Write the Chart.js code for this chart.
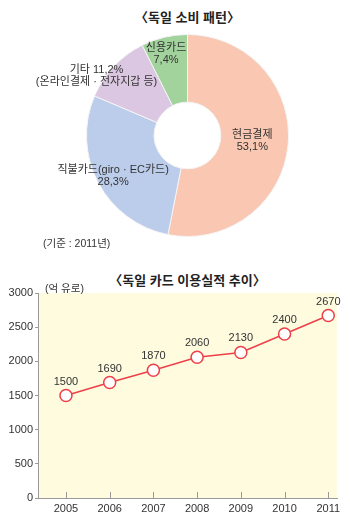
<!DOCTYPE html>
<html lang="ko">
<head>
<meta charset="utf-8">
<script src="https://cdn.jsdelivr.net/npm/chart.js@4.4.0/dist/chart.umd.min.js"></script>
<style>
  html, body { margin: 0; padding: 0; background: #fff; }
  body { width: 350px; height: 526px; position: relative; overflow: hidden;
         font-family: 'Liberation Sans', 'Noto Sans CJK KR', sans-serif; color: #333; }
  .box { position: absolute; left: 0; width: 350px; }
  .title { position: absolute; left: 0; width: 375px; text-align: center; font-size: 13px;
           font-weight: bold; color: #222; font-family: 'Noto Sans CJK KR', sans-serif; }
  .note { position: absolute; font-size: 10.5px; line-height: 12px; color: #333; z-index: 2; }
</style>
</head>
<body>
<div class="title" style="top:7px">〈독일 소비 패턴〉</div>
<div class="box" style="top:0;height:260px"><canvas id="pieChart"></canvas></div>
<div class="note" style="left:43px;top:237px">(기준 : 2011년)</div>

<div class="title" style="top:270px">〈독일 카드 이용실적 추이〉</div>
<div class="box" style="top:260px;height:266px"><canvas id="lineChart"></canvas></div>
<div class="note" style="left:45px;top:282px">(억 유로)</div>

<script>
// --- 소비 패턴 (2011) ---
const payLabels = [['현금결제', '53,1%'], ['직불카드(giro · EC카드)', '28,3%'], ['기타 11,2%', '(온라인결제 · 전자지갑 등)'], ['신용카드', '7,4%']];
const payShares = [53.1, 28.3, 11.2, 7.4];
const payColors = ['#f9c7b2', '#bccdeb', '#dbc7e1', '#a3d39d'];

// --- 카드 이용실적 (억 유로) ---
const years = [2005, 2006, 2007, 2008, 2009, 2010, 2011];
const cardVolume = [1500, 1690, 1870, 2060, 2130, 2400, 2670];
const yTicks = [0, 500, 1000, 1500, 2000, 2500, 3000];

const LATIN = "'Liberation Sans', 'Noto Sans CJK KR', sans-serif";
Chart.defaults.font.family = LATIN;
Chart.defaults.color = '#333';

// label nudges relative to each arc's centroid
const labelNudge = [[-2, -1.5], [-15, 9], [-42, -14], [-6, -16]];

const sliceLabels = {
  id: 'sliceLabels',
  afterDatasetsDraw(chart) {
    const { ctx } = chart;
    const arcs = chart.getDatasetMeta(0).data;
    ctx.save();
    ctx.font = '11px ' + LATIN;
    ctx.fillStyle = '#333';
    ctx.textAlign = 'center';
    ctx.textBaseline = 'middle';
    arcs.forEach((arc, i) => {
      const p = arc.tooltipPosition();
      const x = p.x + labelNudge[i][0];
      const y = p.y + labelNudge[i][1];
      const lines = payLabels[i];
      lines.forEach((t, j) => ctx.fillText(t, x, y + (j - (lines.length - 1) / 2) * 12));
    });
    ctx.restore();
  }
};

new Chart(document.getElementById('pieChart'), {
  type: 'doughnut',
  data: {
    labels: payLabels.map((l) => l.join(' ')),
    datasets: [{ data: payShares, backgroundColor: payColors, borderColor: '#f4f4f4', borderWidth: 1 }],
  },
  options: {
    responsive: true, maintainAspectRatio: false, animation: false,
    cutout: '33%',
    layout: { padding: { left: 86, right: 61, top: 34, bottom: 23 } },
    plugins: { legend: { display: false }, tooltip: { enabled: false } },
  },
  plugins: [sliceLabels],
});

// yellow plot background, inner x tick marks and value labels
const plotDecor = {
  id: 'plotDecor',
  beforeDraw(chart) {
    const { ctx, chartArea: a } = chart;
    ctx.save();
    ctx.fillStyle = '#fefbdf';
    ctx.fillRect(a.left, a.top, a.right - a.left, a.bottom - a.top);
    ctx.restore();
  },
  afterDraw(chart) {
    const { ctx, chartArea: a } = chart;
    const xs = chart.scales.x;
    ctx.save();
    ctx.strokeStyle = '#9a9a9a';
    ctx.lineWidth = 1;
    years.forEach((yr) => {
      const px = Math.round(xs.getPixelForValue(yr)) + 0.5;
      ctx.beginPath();
      ctx.moveTo(px, a.bottom);
      ctx.lineTo(px, a.bottom - 6);
      ctx.stroke();
    });
    ctx.font = '11px ' + LATIN;
    ctx.fillStyle = '#333';
    ctx.textAlign = 'center';
    ctx.textBaseline = 'middle';
    chart.getDatasetMeta(0).data.forEach((pt, i) => {
      ctx.fillText(String(cardVolume[i]), pt.x, pt.y - 14);
    });
    ctx.restore();
  }
};

new Chart(document.getElementById('lineChart'), {
  type: 'line',
  data: {
    datasets: [{
      data: years.map((y, i) => ({ x: y, y: cardVolume[i] })),
      borderColor: '#ee3f48',
      borderWidth: 1.5,
      pointRadius: 6,
      pointBackgroundColor: '#fff',
      pointBorderColor: '#ee3f48',
      pointBorderWidth: 1.5,
      tension: 0,
    }],
  },
  options: {
    responsive: true, maintainAspectRatio: false, animation: false,
    layout: { padding: { top: 33, right: 13, left: 0, bottom: 0 } },
    plugins: { legend: { display: false }, tooltip: { enabled: false } },
    scales: {
      x: {
        type: 'linear', min: 2004.36, max: 2011.2,
        afterBuildTicks: (s) => { s.ticks = years.map((v) => ({ value: v })); },
        afterFit: (s) => { s.height = 28; },
        ticks: { font: { size: 11 }, color: '#333', padding: 4, callback: (v) => String(v) },
        grid: { drawOnChartArea: false, drawTicks: false },
        border: { color: '#9a9a9a', width: 1 },
      },
      y: {
        min: 0, max: 3000,
        afterBuildTicks: (s) => { s.ticks = yTicks.map((v) => ({ value: v })); },
        afterFit: (s) => { s.width = 38; },
        ticks: { font: { size: 11 }, color: '#333', padding: 2, callback: (v) => String(v) },
        grid: { drawOnChartArea: false, tickLength: 3, color: '#9a9a9a' },
        border: { color: '#9a9a9a', width: 1 },
      },
    },
  },
  plugins: [plotDecor],
});
</script>
</body>
</html>
